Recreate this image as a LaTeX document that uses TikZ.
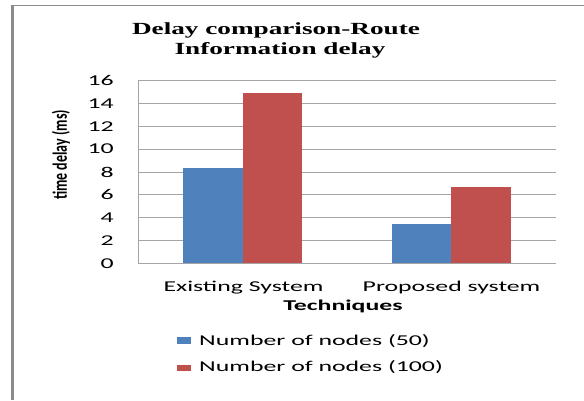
\documentclass[tikz,border=0pt]{standalone}
\usepackage{fontspec}
\usepackage{graphicx}
\setmainfont{Liberation Serif}
\newfontfamily\calfont{Carlito}
\definecolor{barblue}{RGB}{79,129,189}
\definecolor{barred}{RGB}{192,80,77}
\definecolor{gridgray}{RGB}{165,165,165}
\definecolor{framegray}{RGB}{140,140,140}
\newcommand{\wide}[1]{\scalebox{1.72}[1]{#1}}
\newcommand{\ttlwide}[1]{\scalebox{1.6}[1]{#1}}
\newcommand{\tall}[1]{\scalebox{1}[1.45]{#1}}
\begin{document}
\begin{tikzpicture}[x=1pt,y=-1pt,
  gridline/.style={draw=gridgray,line width=0.9pt},
  axisline/.style={draw=gridgray,line width=1pt},
  framebar/.style={draw=framegray},
  ticklabel/.style={anchor=east,inner sep=0pt,font=\calfont\fontsize{15}{15}\selectfont},
  catlabel/.style={anchor=base,inner sep=0pt,font=\calfont\fontsize{15}{15}\selectfont},
  axistitle/.style={inner sep=0pt,font=\calfont\bfseries\fontsize{15}{15}\selectfont},
  titletext/.style={anchor=base,inner sep=0pt,font=\bfseries\fontsize{17}{17}\selectfont},
  legendtext/.style={anchor=base west,inner sep=0pt,font=\calfont\fontsize{15}{15}\selectfont},
]
\useasboundingbox (0,0) rectangle (584,400);
\fill[white] (0,0) rectangle (584,400);
% frame
\draw[framegray,line width=2.5pt] (12.5,5) -- (12.5,400);
\draw[framegray,line width=1.5pt] (11.25,5.5) -- (584,5.5);
% title
\node[titletext] (title1) at (276,34) {\ttlwide{Delay comparison-Route}};
\node[titletext] (title2) at (280,54) {\ttlwide{Information delay}};
% gridlines and tick labels
\foreach \v in {0,2,...,16} {
  \draw[gridline] (138,{263.5-11.4375*\v}) -- (556,{263.5-11.4375*\v});
  \node[ticklabel] (tick\v) at (114,{263.5-11.4375*\v}) {\wide{\v}};
}
\draw[axisline] (138,80.5) -- (138,263.5);
% bars
\fill[barblue] (183,263.5) rectangle (243,{263.5-11.4375*8.35});
\fill[barred] (243,263.5) rectangle (302,{263.5-11.4375*14.93});
\fill[barblue] (392,263.5) rectangle (451,{263.5-11.4375*3.48});
\fill[barred] (451,263.5) rectangle (511,{263.5-11.4375*6.66});
\draw[axisline] (138,263.5) -- (556,263.5);
% category labels
\node[catlabel] (cat1) at (243.5,291) {\wide{Existing System}};
\node[catlabel] (cat2) at (451.5,291) {\wide{Proposed system}};
\node[axistitle,anchor=base] (xtitle) at (343,310.7) {\wide{Techniques}};
\node[inner sep=0pt,rotate=90,font=\calfont\bfseries\fontsize{14}{14}\selectfont] (ytitle) at (61,155) {\tall{time delay (ms)}};
% legend
\fill[barblue] (177,337) rectangle (191,343.5);
\node[legendtext] (leg1) at (199,345) {\wide{Number of nodes (50)}};
\fill[barred] (177,364.5) rectangle (191,371);
\node[legendtext] (leg2) at (199,371.7) {\wide{Number of nodes (100)}};
\end{tikzpicture}
\end{document}
